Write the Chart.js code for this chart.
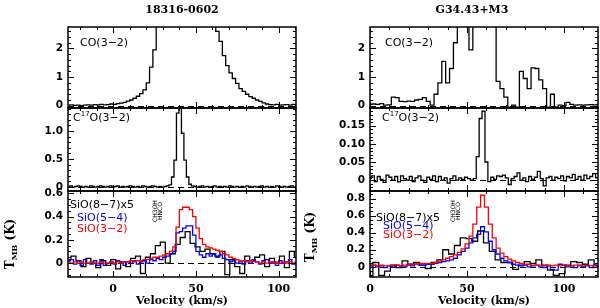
<!DOCTYPE html>
<html><head><meta charset="utf-8">
<script src="https://cdn.jsdelivr.net/npm/chart.js@4/dist/chart.umd.min.js"></script>
<style>
html,body{margin:0;padding:0;background:#fff;}
#wrap{position:relative;width:600px;height:308px;overflow:hidden;background:#fff;}
#wrap canvas{position:absolute;left:0;top:0;}
</style></head><body><div id="wrap"></div>
<script>
// ================= DATA =================
const titleLeft = '18316-0602';
const titleRight = 'G34.43+M3';
const xTitle = 'Velocity (km/s)';
const legendNames = ['SiO(8\u22127)x5', 'SiO(5\u22124)', 'SiO(3\u22122)'];
const xTickStep = 50;

// ---- 18316-0602 (left column) ----
const L_coV0 = -27, L_coDv = 2;
const L_co = [0.02,0.03,0.01,0.02,0.00,0.02,0.03,0.02,0.04,0.03,0.05,0.03,0.04,0.06,
  0.05,0.07,0.09,0.12,0.16,0.20,0.26,0.33,0.42,0.55,0.80,1.35,1.95,
  3.2,4.2,5.1,6.0,6.8,7.4,7.9,8.2,8.3,8.1,7.6,7.0,6.2,5.4,4.6,3.9,3.3,2.9,
  2.6,2.25,1.75,1.4,1.15,0.95,0.78,0.6,0.5,0.4,0.32,0.26,0.2,0.15,0.1,0.06,
  0.04,0.03,0.05,0.02,0.03,0.04,0.02,0.05,0.03];

const L_c17oV0 = -27, L_c17oDv = 1.5;
const L_c17o = [0.01,0.02,0.0,0.01,0.02,0.01,0.0,0.01,0.0,0.02,
  0.01,0.0,0.01,0.02,0.01,0.0,0.01,0.02,0.0,0.01,
  0.02,0.0,0.01,0.0,0.01,0.02,0.01,0.0,0.01,0.0,
  0.02,0.01,0.0,0.01,0.02,0.01,0.0,0.01,0.0,0.01,
  0.02,0.04,0.18,0.48,1.32,1.6,0.96,0.48,0.18,0.05,
  0.02,0.01,0.0,0.01,0.02,0.0,0.01,0.0,0.01,0.02,
  0.0,0.01,0.0,0.01,0.0,0.02,0.01,0.0,0.01,0.0,
  0.01,0.0,0.02,0.01,0.0,0.01,0.0,0.01,0.02,0.0,
  0.01,0.0,0.01,0.0,0.02,0.01,0.0,0.01,0.0,0.01,
  0.02,0.0,0.01];

const L_sioV0 = -27, L_sioDv = 2;
const L_sio32 = [0.01,0.0,0.01,0.0,0.01,0.0,0.0,0.01,0.0,0.0,0.01,0.0,0.0,0.01,
  0.0,0.01,0.0,0.01,0.01,0.02,0.01,0.02,0.02,0.03,0.03,0.04,0.05,
  0.05,0.06,0.07,0.08,0.1,0.14,0.31,0.46,0.48,0.48,0.46,0.4,0.3,
  0.21,0.16,0.14,0.13,0.12,0.11,0.1,0.08,0.07,0.05,0.04,0.03,0.02,
  0.02,0.01,0.02,0.01,0.01,0.0,0.01,0.0,0.01,0.0,0.01,0.0,0.01,0.0,0.01,0.0,0.0];
const L_sio54 = [0.02,0.03,-0.01,0.02,-0.02,0.03,0.0,-0.01,0.02,-0.02,0.03,-0.02,0.0,0.01,
  -0.01,0.02,0.0,-0.02,0.01,0.0,0.02,-0.01,0.01,0.02,0.0,0.03,0.02,
  0.04,0.03,0.05,0.06,0.08,0.1,0.26,0.27,0.3,0.32,0.32,0.24,0.1,
  0.07,0.05,0.08,0.06,0.08,0.05,0.07,0.04,0.03,0.01,0.02,0.0,0.01,
  -0.01,0.02,0.0,0.03,0.01,-0.01,0.02,0.03,0.0,0.01,-0.02,0.02,0.0,0.01,0.03,-0.01,0.01];
const L_sio87V0 = -27, L_sio87Dv = 3;
const L_sio87x5 = [0.03,0.06,0.02,-0.03,0.04,0.0,-0.04,0.02,-0.02,0.03,
  -0.05,0.01,-0.03,0.04,0.06,-0.09,0.05,0.08,0.15,0.18,
  0.0,0.08,0.16,0.22,0.27,0.17,0.14,0.1,0.12,0.08,
  0.06,0.1,-0.1,0.03,-0.03,-0.09,0.06,0.02,0.05,0.07,
  -0.03,0.04,0.0,0.06,-0.04,0.1,0.05];

// ---- G34.43+M3 (right column) ----
const R_coV0 = 0, R_coDv = 2;
const R_co = [0.05,0.06,0.05,0.07,0.02,0.03,0.3,0.28,0.15,0.14,
  0.16,0.15,0.2,0.22,0.28,0.15,0.02,0.4,0.8,1.55,
  0.8,1.3,2.2,3.3,3.8,3.5,1.95,3.9,4.5,4.6,
  4.2,3.6,3.1,0.85,0.6,0.3,-0.05,0.02,-0.05,1.2,
  0.95,0.6,1.32,1.3,0.9,0.6,-0.05,0.4,-0.05,0.02,
  0.0,0.12,0.05,0.02,0.03,0.02,0.03,0.04,0.03,0.05];

const R_c17oV0 = 0, R_c17oDv = 1.5;
const R_c17o = [0.005,0.012,-0.004,0.01,0.002,-0.006,0.014,0.008,0.0,0.01,
  -0.005,0.012,0.004,0.0,0.01,-0.004,0.006,0.012,0.0,-0.006,
  0.008,0.002,0.012,-0.004,0.01,0.0,0.006,-0.008,0.004,0.012,
  0.0,0.006,0.002,0.008,0.004,0.0,0.004,0.065,0.17,0.19,
  0.05,-0.004,0.008,0.002,0.012,0.01,0.014,0.006,-0.012,0.004,
  0.01,0.02,0.0,0.006,-0.004,0.01,0.002,0.008,0.024,0.004,
  -0.016,0.006,0.01,0.0,0.008,0.004,0.012,-0.002,0.01,0.006,
  0.016,0.002,0.01,0.0,0.014,0.004,0.01,0.018,0.006,0.012];

const R_sioV0 = 0, R_sioDv = 2;
const R_sio32 = [0.02,0.02,0.01,0.02,0.01,0.01,0.02,0.02,0.01,0.02,
  0.03,0.03,0.03,0.04,0.04,0.04,0.04,0.05,0.07,0.08,
  0.1,0.12,0.14,0.17,0.21,0.27,0.36,0.5,0.7,0.84,
  0.7,0.5,0.34,0.22,0.16,0.12,0.09,0.07,0.05,0.04,
  0.03,0.03,0.02,0.02,0.02,0.01,0.02,0.01,0.02,0.01,
  0.02,0.01,0.01,0.02,0.01,0.01,0.02,0.01,0.01,0.01];
const R_sio54 = [0.01,0.02,0.0,0.01,-0.01,0.01,0.0,0.02,0.01,0.0,
  0.02,0.01,0.03,0.02,0.02,0.03,0.03,0.04,0.05,0.06,
  0.07,0.08,0.1,0.14,0.18,0.22,0.28,0.34,0.38,0.47,
  0.41,0.3,0.2,0.15,0.1,0.07,0.05,0.03,0.02,0.01,
  0.02,0.0,0.01,0.02,0.0,-0.01,0.01,-0.03,-0.04,0.03,
  0.02,0.0,0.01,-0.01,0.02,0.0,0.01,-0.01,0.02,0.0];
const R_sio87V0 = 0, R_sio87Dv = 3;
const R_sio87x5 = [-0.12,0.05,-0.1,-0.05,0.02,-0.01,0.07,0.03,0.05,0.02,
  -0.02,0.05,0.08,0.2,0.15,0.25,0.34,0.33,0.3,0.42,
  0.28,0.18,0.08,0.05,0.05,-0.03,0.02,0.06,0.04,0.08,
  0.02,-0.04,-0.1,-0.08,0.02,0.06,0.05,0.03,0.08,0.02];

// line identification labels (tiny, vertical)
const lineIdsLeft = ['CH3OH', 'HNCO'];
const lineIdsRight = ['CH3OH', 'HNCO'];

// ================= RENDERING =================
const wrap = document.getElementById('wrap');
const SANS = '"DejaVu Sans", sans-serif';
const SERIF = '"DejaVu Serif", serif';
const W = 600, H = 308, YW = 40;
Chart.defaults.font.family = SANS;
Chart.defaults.font.size = 10;
Chart.defaults.font.weight = 'bold';
Chart.defaults.color = '#000';

function pts(v0, dv, vals) { return vals.map((y, i) => ({x: Math.round((v0 + i * dv) * 1000) / 1000, y})); }

function rich(ctx, parts, x, y, o) {
  const size = o.size || 11, fam = o.family || SANS, wt = o.weight || 'normal';
  ctx.save();
  ctx.fillStyle = o.color || '#000';
  ctx.textBaseline = 'middle';
  ctx.textAlign = 'left';
  if (o.rot) { ctx.translate(x, y); ctx.rotate(o.rot); x = 0; y = 0; }
  let w = 0;
  const items = parts.map(p => {
    const s = p.s ? Math.round(size * 0.68) : size;
    const f = `${wt} ${s}px ${fam}`;
    ctx.font = f;
    const it = {t: p.t, f, dx: w, dy: p.s === 'sup' ? -size * 0.36 : (p.s === 'sub' ? size * 0.32 : 0)};
    w += ctx.measureText(p.t).width;
    return it;
  });
  const x0 = o.align === 'center' ? x - w / 2 : (o.align === 'right' ? x - w : x);
  items.forEach(it => { ctx.font = it.f; ctx.fillText(it.t, x0 + it.dx, y + it.dy); });
  ctx.restore();
}

function framePlugin(cfg) {
  return {
    id: 'frame',
    beforeDatasetsDraw(chart) {
      const {ctx, chartArea: a} = chart;
      const y = chart.scales.y;
      const y0 = Math.round(y.getPixelForValue(0)) + 0.5;
      ctx.save();
      ctx.beginPath(); ctx.rect(a.left, a.top, a.right - a.left, a.bottom - a.top); ctx.clip();
      ctx.setLineDash([6, 4]); ctx.lineWidth = 1; ctx.strokeStyle = '#000';
      ctx.beginPath(); ctx.moveTo(a.left, y0); ctx.lineTo(a.right, y0); ctx.stroke();
      ctx.restore();
    },
    afterDatasetsDraw(chart) {
      const {ctx, chartArea: a} = chart;
      const {x, y} = chart.scales;
      ctx.save();
      ctx.strokeStyle = '#000';
      ctx.lineWidth = 1;
      const xt = (step, len) => {
        for (let k = Math.ceil(x.min / step - 1e-9); k * step <= x.max + 1e-9; k++) {
          const p = Math.round(x.getPixelForValue(k * step)) + 0.5;
          ctx.beginPath();
          ctx.moveTo(p, a.bottom); ctx.lineTo(p, a.bottom - len);
          ctx.moveTo(p, a.top); ctx.lineTo(p, a.top + len);
          ctx.stroke();
        }
      };
      const yt = (step, len) => {
        for (let k = Math.ceil(y.min / step - 1e-9); k * step <= y.max + 1e-9; k++) {
          const p = Math.round(y.getPixelForValue(k * step)) + 0.5;
          ctx.beginPath();
          ctx.moveTo(a.left, p); ctx.lineTo(a.left + len, p);
          ctx.moveTo(a.right, p); ctx.lineTo(a.right - len, p);
          ctx.stroke();
        }
      };
      xt(cfg.xMinor, 3); xt(xTickStep, 6);
      yt(cfg.yMinor, 3); yt(cfg.yMajor, 6);
      ctx.lineWidth = 1.5;
      ctx.strokeRect(a.left, a.top, a.right - a.left, a.bottom - a.top);
      ctx.restore();
    },
    afterDraw(chart) {
      const {ctx} = chart;
      (cfg.texts || []).forEach(t => rich(ctx, t.parts, t.x, t.y, t));
    }
  };
}

function panel(cfg) {
  const c = document.createElement('canvas');
  c.width = W; c.height = H;
  wrap.appendChild(c);
  const b = cfg.box;
  return new Chart(c, {
    type: 'line',
    data: {
      datasets: cfg.series.map(s => ({
        data: s.data, borderColor: s.color, backgroundColor: s.color,
        borderWidth: 1.3, stepped: 'middle', pointRadius: 0, fill: false, order: s.order || 0
      }))
    },
    options: {
      responsive: false, animation: false, devicePixelRatio: 1, events: [],
      layout: {padding: {left: b.l - YW, right: W - b.r, top: b.t, bottom: cfg.showX ? 0 : H - b.b}},
      plugins: {legend: {display: false}, tooltip: {enabled: false}, title: {display: false}},
      scales: {
        x: {
          type: 'linear', min: cfg.xMin, max: cfg.xMax, display: !!cfg.showX,
          grid: {display: false, drawTicks: false}, border: {display: false},
          ticks: {stepSize: xTickStep, includeBounds: false, padding: 6, maxRotation: 0,
                  font: {family: SERIF, size: 11, weight: 'bold'}},
          title: {display: true, text: xTitle, padding: 0, font: {family: SERIF, size: 11, weight: 'bold'}},
          afterFit: s => { s.height = cfg.showX ? H - b.b : 0; }
        },
        y: {
          type: 'linear', min: cfg.yMin, max: cfg.yMax,
          grid: {display: false, drawTicks: false}, border: {display: false},
          ticks: {stepSize: cfg.yMajor, includeBounds: false, padding: 5,
                  font: {family: SANS, size: 10.5, weight: 'bold'}},
          afterFit: s => { s.width = YW; }
        }
      }
    },
    plugins: [framePlugin(cfg)]
  });
}

const LB = {l: 68, r: 296}, RB = {l: 370, r: 598};
const rows = [{t: 27, b: 108}, {t: 108, b: 191}, {t: 191, b: 277}];
const BLK = '#000', BLU = '#0000ff', RED = '#ff0000';

function tmb(x, y) {
  return {parts: [{t: 'T'}, {t: 'MB', s: 'sub'}, {t: ' (K)'}], x, y, size: 12, family: SERIF, weight: 'bold', align: 'center', rot: -Math.PI / 2};
}
function ids(list, x0, y0) {
  return list.map((t, i) => ({parts: [{t}], x: x0 + i * 5, y: y0, size: 6, family: SANS, align: 'center', rot: -Math.PI / 2}));
}

// Left column
panel({box: {...LB, ...rows[0]}, xMin: -27.3, xMax: 110.5, xMinor: 10, yMin: -0.08, yMax: 2.75, yMajor: 1, yMinor: 0.2,
  series: [{data: pts(L_coV0, L_coDv, L_co), color: BLK}],
  texts: [{parts: [{t: titleLeft}], x: 182, y: 10, size: 11, family: SERIF, weight: 'bold', align: 'center'},
          {parts: [{t: 'CO(3\u22122)'}], x: 80, y: 43, size: 11}]});
panel({box: {...LB, ...rows[1]}, xMin: -27.3, xMax: 110.5, xMinor: 10, yMin: -0.07, yMax: 1.41, yMajor: 0.5, yMinor: 0.1,
  series: [{data: pts(L_c17oV0, L_c17oDv, L_c17o), color: BLK}],
  texts: [{parts: [{t: 'C'}, {t: '17', s: 'sup'}, {t: 'O(3\u22122)'}], x: 73, y: 118, size: 11}]});
panel({box: {...LB, ...rows[2]}, showX: true, xMin: -27.3, xMax: 110.5, xMinor: 10, yMin: -0.12, yMax: 0.62, yMajor: 0.2, yMinor: 0.05,
  series: [{data: pts(L_sio87V0, L_sio87Dv, L_sio87x5), color: BLK, order: 2},
           {data: pts(L_sioV0, L_sioDv, L_sio54), color: BLU, order: 1},
           {data: pts(L_sioV0, L_sioDv, L_sio32), color: RED, order: 0}],
  texts: [{parts: [{t: legendNames[0]}], x: 70, y: 205, size: 11, color: BLK},
          {parts: [{t: legendNames[1]}], x: 77, y: 218, size: 11, color: BLU},
          {parts: [{t: legendNames[2]}], x: 77, y: 229, size: 11, color: RED},
          tmb(11, 244), ...ids(lineIdsLeft, 155.5, 211)]});

// Right column
panel({box: {...RB, ...rows[0]}, xMin: 0, xMax: 117.5, xMinor: 10, yMin: -0.08, yMax: 2.75, yMajor: 1, yMinor: 0.2,
  series: [{data: pts(R_coV0, R_coDv, R_co), color: BLK}],
  texts: [{parts: [{t: titleRight}], x: 472, y: 10, size: 11, family: SERIF, weight: 'bold', align: 'center'},
          {parts: [{t: 'CO(3\u22122)'}], x: 385, y: 43, size: 11}]});
panel({box: {...RB, ...rows[1]}, xMin: 0, xMax: 117.5, xMinor: 10, yMin: -0.03, yMax: 0.199, yMajor: 0.05, yMinor: 0.01,
  series: [{data: pts(R_c17oV0, R_c17oDv, R_c17o), color: BLK}],
  texts: [{parts: [{t: 'C'}, {t: '17', s: 'sup'}, {t: 'O(3\u22122)'}], x: 382, y: 118, size: 11}]});
panel({box: {...RB, ...rows[2]}, showX: true, xMin: 0, xMax: 117.5, xMinor: 10, yMin: -0.12, yMax: 0.89, yMajor: 0.2, yMinor: 0.05,
  series: [{data: pts(R_sio87V0, R_sio87Dv, R_sio87x5), color: BLK, order: 2},
           {data: pts(R_sioV0, R_sioDv, R_sio54), color: BLU, order: 1},
           {data: pts(R_sioV0, R_sioDv, R_sio32), color: RED, order: 0}],
  texts: [{parts: [{t: legendNames[0]}], x: 376, y: 218, size: 11, color: BLK},
          {parts: [{t: legendNames[1]}], x: 383, y: 226, size: 11, color: BLU},
          {parts: [{t: legendNames[2]}], x: 383, y: 235, size: 11, color: RED},
          tmb(311, 237), ...ids(lineIdsRight, 453, 211)]});
</script></body></html>
